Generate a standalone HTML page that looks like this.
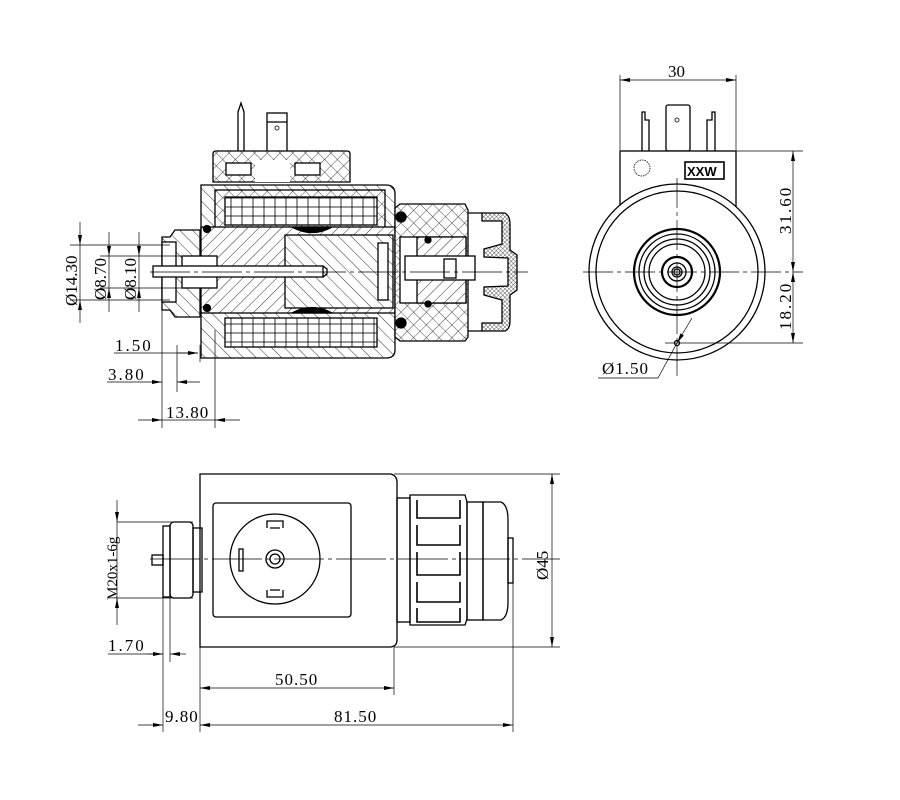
<!DOCTYPE html>
<html><head><meta charset="utf-8"><style>
html,body{margin:0;padding:0;background:#fff;}
svg{display:block;}
text{font-family:"Liberation Serif","DejaVu Serif",serif;font-size:17px;fill:#000;}
</style></head><body>
<svg width="900" height="800" viewBox="0 0 900 800" xmlns="http://www.w3.org/2000/svg">
<defs>
<pattern id="h1" width="8" height="8" patternUnits="userSpaceOnUse" patternTransform="rotate(45)"><rect width="8" height="8" fill="#fff"/><line x1="0" y1="0" x2="0" y2="8" stroke="#000" stroke-width="0.8"/></pattern>
<pattern id="h2" width="9" height="9" patternUnits="userSpaceOnUse" patternTransform="rotate(-45)"><rect width="9" height="9" fill="#fff"/><line x1="0" y1="0" x2="0" y2="9" stroke="#000" stroke-width="0.8"/></pattern>
<pattern id="hx" width="9" height="9" patternUnits="userSpaceOnUse" patternTransform="rotate(45)"><rect width="9" height="9" fill="#fff"/><line x1="0" y1="0" x2="0" y2="9" stroke="#000" stroke-width="0.7"/><line x1="0" y1="0" x2="9" y2="0" stroke="#000" stroke-width="0.7"/></pattern>
<pattern id="hs" width="3" height="3" patternUnits="userSpaceOnUse" patternTransform="rotate(45)"><rect width="3" height="3" fill="#fff"/><line x1="0" y1="0" x2="0" y2="3" stroke="#000" stroke-width="0.6"/><line x1="0" y1="0" x2="3" y2="0" stroke="#000" stroke-width="0.6"/></pattern>
<pattern id="coil" width="11" height="9" patternUnits="userSpaceOnUse"><rect width="11" height="9" fill="#fff" stroke="#000" stroke-width="0.8"/></pattern>
<marker id="a" viewBox="0 0 10 4" refX="10" refY="2" markerWidth="12" markerHeight="4" orient="auto-start-reverse" markerUnits="userSpaceOnUse"><path d="M0,0 L10,2 L0,4z" fill="#000"/></marker>
</defs>
<g fill="none" stroke="#000" stroke-width="1.3">

<!-- ===== SECTION VIEW ===== -->
<path d="M238,178 L238,112 L241,103 L244,112 L244,178" fill="#fff"/>
<rect x="267" y="113" width="20" height="62" fill="#fff"/>
<path d="M267,122 L287,122"/><circle cx="277" cy="128" r="2" stroke-width="0.8"/>
<path d="M213,182 L213,154 Q213,151 216,151 L347,151 Q350,151 350,154 L350,182 Z" fill="url(#hx)"/>
<rect x="226" y="163" width="25" height="12" fill="#fff"/><rect x="295" y="163" width="25" height="12" fill="#fff"/>
<rect x="255" y="160" width="35" height="22" fill="#fff" stroke="none"/>
<path d="M201,185 L386,185 Q395,185 395,194 L395,350 Q395,358 386,358 L201,358 Z" fill="url(#h2)"/>
<rect x="215" y="190" width="170" height="40" fill="url(#hx)"/>
<rect x="225" y="197" width="152" height="28" fill="url(#coil)"/>
<rect x="225" y="318" width="152" height="29" fill="url(#coil)"/>
<rect x="201" y="227" width="194" height="86" fill="url(#h1)"/>
<path d="M395,227 L448,227 L448,236 L395,236 M395,304 L448,304 L448,313 L395,313" fill="url(#h1)"/>
<rect x="285" y="235" width="108" height="73" fill="url(#h2)"/>
<rect x="378" y="243" width="10" height="57" fill="#fff"/>
<path d="M292,227 Q312,238 332,227 Z M292,313 Q312,302 332,313 Z" fill="#000"/>
<path d="M200,230 L175,230 L170,237 L162,237 L162,310 L170,310 L175,317 L200,317 Z" fill="url(#h2)"/>
<rect x="162" y="242" width="14" height="60" fill="#fff"/>
<rect x="182" y="256" width="35" height="32" fill="#fff"/>
<rect x="153" y="266" width="170" height="11" fill="#fff"/>
<path d="M323,266 L327,269 L327,274 L323,277"/>
<circle cx="207" cy="229" r="3.5" fill="#000"/><circle cx="207" cy="308" r="3.5" fill="#000"/>
<path d="M395,208 L400,204 L465,204 L468,210 L468,337 L465,341 L400,341 L395,337 Z" fill="url(#hx)"/>
<rect x="400" y="237" width="66" height="66" fill="#fff"/>
<path d="M417,237 L466,237 L466,303 L417,303 Z" fill="url(#h1)"/>
<rect x="405" y="256" width="70" height="24" fill="#fff"/>
<rect x="444" y="259" width="12" height="19" fill="#fff"/>
<circle cx="401" cy="217" r="5" fill="#000"/><circle cx="401" cy="323" r="5" fill="#000"/>
<circle cx="428" cy="240" r="3" fill="#000"/><circle cx="428" cy="304" r="3" fill="#000"/>
<path d="M482,213 L505,213 Q510,216 510,224 L510,250 L517,255 L517,290 L510,295 L510,321 Q510,329 505,331 L482,331 L482,323 L502,323 L502,300 L484,295 L484,287 L508,286 L508,258 L484,257 L484,249 L502,244 L502,221 L482,221 Z" fill="url(#hs)"/>
<path d="M468,213 L482,213 M468,331 L482,331"/>
<line x1="150" y1="272" x2="528" y2="272" stroke-width="0.7" stroke-dasharray="40,4,4,4"/>

<g stroke-width="0.7">
<line x1="70" y1="245" x2="170" y2="245"/><line x1="70" y1="300" x2="170" y2="300"/>
<line x1="80" y1="222" x2="80" y2="245" marker-end="url(#a)"/><line x1="80" y1="323" x2="80" y2="300" marker-end="url(#a)"/>
<line x1="80" y1="245" x2="80" y2="300"/>
<line x1="100" y1="256" x2="182" y2="256"/><line x1="100" y1="288" x2="182" y2="288"/>
<line x1="109" y1="232" x2="109" y2="256" marker-end="url(#a)"/><line x1="109" y1="312" x2="109" y2="288" marker-end="url(#a)"/>
<line x1="109" y1="256" x2="109" y2="288"/>
<line x1="139" y1="232" x2="139" y2="256" marker-end="url(#a)"/><line x1="139" y1="312" x2="139" y2="288" marker-end="url(#a)"/>
<line x1="139" y1="256" x2="139" y2="288"/>
<line x1="162" y1="310" x2="162" y2="428"/><line x1="215" y1="330" x2="215" y2="428"/>
<line x1="177" y1="345" x2="177" y2="392"/><line x1="200" y1="345" x2="200" y2="362"/>
<line x1="114" y1="353" x2="198" y2="353"/><line x1="178" y1="353" x2="198" y2="353" marker-end="url(#a)"/>
<line x1="107" y1="382" x2="162" y2="382" marker-end="url(#a)"/><line x1="200" y1="382" x2="177" y2="382" marker-end="url(#a)"/>
<line x1="138" y1="420" x2="162" y2="420" marker-end="url(#a)"/><line x1="240" y1="420" x2="215" y2="420" marker-end="url(#a)"/>
<line x1="162" y1="420" x2="215" y2="420"/>
</g>
</g>
<text transform="translate(77,306) rotate(-90)">Ø14.30</text>
<text transform="translate(106,300) rotate(-90)">Ø8.70</text>
<text transform="translate(136,300) rotate(-90)">Ø8.10</text>
<text x="115" y="351" letter-spacing="2">1.50</text>
<text x="108" y="380" letter-spacing="2">3.80</text>
<text x="166" y="418" letter-spacing="1">13.80</text>

<!-- ===== END VIEW ===== -->
<g fill="none" stroke="#000" stroke-width="1.3">
<rect x="666" y="105" width="24" height="46" rx="2" fill="#fff"/><circle cx="677" cy="120" r="2" stroke-width="0.8"/>
<path d="M642,151 L642,112 L645,112 L645,120 L649,120 L649,151"/>
<path d="M715,151 L715,112 L712,112 L712,120 L707,120 L707,151"/>
<rect x="620" y="151" width="116" height="60" fill="#fff"/>
<circle cx="677" cy="272" r="88" fill="#fff"/>
<circle cx="677" cy="272" r="81"/>
<circle cx="642" cy="168" r="8" stroke-width="0.8" stroke-dasharray="1.5,1"/>
<rect x="685" y="162" width="39" height="17" stroke-width="1.6"/>
<circle cx="677" cy="272" r="43" stroke-width="2.2"/>
<circle cx="677" cy="272" r="38"/><circle cx="677" cy="272" r="33"/><circle cx="677" cy="272" r="28"/>
<circle cx="677" cy="272" r="15" stroke-width="2.2"/><circle cx="677" cy="272" r="9"/><circle cx="677" cy="272" r="5"/><circle cx="677" cy="272" r="3"/>
<circle cx="677" cy="343" r="2.5"/>
<g stroke-width="0.7">
<line x1="583" y1="272" x2="803" y2="272" stroke-dasharray="30,4,4,4"/>
<line x1="677" y1="178" x2="677" y2="380" stroke-dasharray="30,4,4,4"/>
<line x1="620" y1="150" x2="620" y2="75"/><line x1="736" y1="150" x2="736" y2="75"/>
<line x1="620" y1="80" x2="736" y2="80" marker-end="url(#a)" marker-start="url(#a)"/>
<line x1="736" y1="151" x2="803" y2="151"/><line x1="665" y1="343" x2="803" y2="343"/>
<line x1="793" y1="151" x2="793" y2="272" marker-end="url(#a)" marker-start="url(#a)"/>
<line x1="793" y1="272" x2="793" y2="343" marker-end="url(#a)" marker-start="url(#a)"/>
<line x1="692" y1="318" x2="677" y2="343" marker-end="url(#a)"/>
<line x1="677" y1="343" x2="658" y2="378"/><line x1="658" y1="378" x2="598" y2="378"/>
</g>
</g>
<text x="668" y="77">30</text>
<text transform="translate(791,234) rotate(-90)" letter-spacing="2">31.60</text>
<text transform="translate(791,330) rotate(-90)" letter-spacing="2">18.20</text>
<text x="602" y="374" letter-spacing="1">Ø1.50</text>
<text x="687" y="176" style="font-family:'Liberation Sans',sans-serif;font-size:13px;font-weight:bold">XXW</text>

<!-- ===== BOTTOM VIEW ===== -->
<g fill="none" stroke="#000" stroke-width="1.3">
<path d="M200,474 L391,474 Q397,476 397,482 L397,640 Q397,646 391,647 L200,647 Z"/>
<rect x="213" y="503" width="138" height="114" rx="3"/>
<circle cx="275" cy="559" r="45"/>
<circle cx="275" cy="559" r="9"/><circle cx="275" cy="559" r="5"/>
<rect x="239" y="549" width="4" height="22"/>
<path d="M267,528 L267,521 L283,521 L283,528 M270,528 L280,528"/>
<path d="M267,590 L267,597 L283,597 L283,590 M270,590 L280,590"/>
<rect x="193" y="528" width="9" height="64"/>
<rect x="170" y="522" width="23" height="76" rx="4"/>
<rect x="163" y="526" width="7" height="71"/>
<rect x="152" y="555" width="11" height="10"/>
<rect x="397" y="498" width="13" height="124"/>
<path d="M410,495 L465,495 L467,502 L467,619 L465,625 L410,625 Z"/>
<path d="M417,500 L417,518 L460,518 L460,500 M417,525 L417,545 L460,545 L460,525 M417,552 L417,575 L460,575 L460,552 M417,582 L417,602 L460,602 L460,582 M417,608 L417,622 L460,622 L460,608" stroke-width="1.6"/>
<rect x="467" y="502" width="16" height="118"/>
<path d="M483,502 L501,502 Q508,505 508,520 L508,602 Q508,617 501,620 L483,620 Z"/>
<rect x="508" y="538" width="5" height="45"/>
<g stroke-width="0.7">
<line x1="150" y1="559" x2="560" y2="559" stroke-dasharray="50,4,4,4"/>
<line x1="394" y1="474" x2="560" y2="474"/><line x1="394" y1="647" x2="560" y2="647"/>
<line x1="552" y1="474" x2="552" y2="647" marker-end="url(#a)" marker-start="url(#a)"/>
<line x1="117" y1="522" x2="193" y2="522"/><line x1="117" y1="598" x2="193" y2="598"/>
<line x1="117" y1="500" x2="117" y2="522" marker-end="url(#a)"/><line x1="117" y1="625" x2="117" y2="598" marker-end="url(#a)"/>
<line x1="117" y1="522" x2="117" y2="598"/>
<line x1="163" y1="597" x2="163" y2="732"/><line x1="170" y1="597" x2="170" y2="662"/>
<line x1="200" y1="647" x2="200" y2="732"/><line x1="394" y1="647" x2="394" y2="695"/><line x1="513" y1="583" x2="513" y2="732"/>
<line x1="108" y1="654" x2="163" y2="654"/><line x1="148" y1="654" x2="163" y2="654" marker-end="url(#a)"/><line x1="186" y1="654" x2="170" y2="654" marker-end="url(#a)"/>
<line x1="200" y1="688" x2="394" y2="688" marker-end="url(#a)" marker-start="url(#a)"/>
<line x1="138" y1="725" x2="163" y2="725" marker-end="url(#a)"/>
<line x1="200" y1="725" x2="513" y2="725" marker-end="url(#a)" marker-start="url(#a)"/>
</g>
</g>
<text transform="translate(117,600) rotate(-90)" style="font-size:15px">M20x1-6g</text>
<text transform="translate(548,580) rotate(-90)">Ø45</text>
<text x="108" y="651" letter-spacing="2">1.70</text>
<text x="275" y="685" letter-spacing="1">50.50</text>
<text x="165" y="722" letter-spacing="1">9.80</text>
<text x="334" y="722" letter-spacing="1">81.50</text>
</svg>
</body></html>
